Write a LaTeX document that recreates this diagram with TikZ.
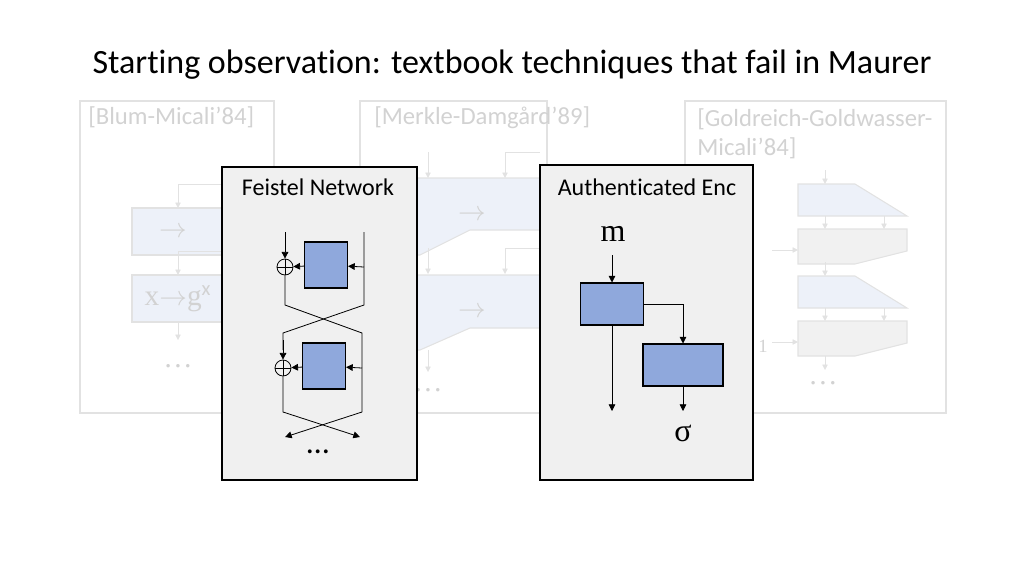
\documentclass[tikz,border=0pt]{standalone}
\usepackage{fontspec}
\setmainfont{Carlito}[Ligatures={NoCommon}]
\newfontfamily\serifm{Liberation Serif}
\usetikzlibrary{arrows.meta,positioning,calc}
\definecolor{fadeline}{HTML}{E2E2E2}
\definecolor{fadetext}{HTML}{D2D2D2}
\definecolor{fadeblue}{HTML}{EDF1F9}
\definecolor{fadegray}{HTML}{F1F1F1}
\definecolor{panel}{HTML}{F0F0F0}
\definecolor{blk}{HTML}{8FA8DC}
\tikzset{
  faded/.style={draw=fadeline,line width=0.8pt},
  fadearr/.style={draw=fadeline,-{Triangle[length=4pt,width=4pt]}},
  fadelbl/.style={text=fadetext,font=\fontsize{18.5}{22}\selectfont,anchor=north west,inner sep=0},
  fadesym/.style={text=fadetext,font=\fontsize{22}{24}\selectfont\serifm},
  panelbox/.style={draw=black,fill=panel,line width=0.8pt},
  fun/.style={draw=black,fill=blk,line width=0.8pt,inner sep=0},
  wire/.style={draw=black,line width=0.6pt},
  arr/.style={wire,-{Triangle[length=5pt,width=5pt]}},
  xor/.style={circle,draw=black,line width=0.6pt,minimum size=12pt,inner sep=0,
    path picture={\draw[black,line width=0.6pt] (path picture bounding box.north)--(path picture bounding box.south)
      (path picture bounding box.west)--(path picture bounding box.east);}}
}
\begin{document}
\begin{tikzpicture}[x=0.75pt,y=-0.75pt]
\useasboundingbox (0,0) rectangle (1024,576);
\node[font=\fontsize{25.5}{30}\selectfont] (title) at (512,65) {Starting observation: textbook techniques that fail in Maurer};

% faded background panels
\draw[faded] (80,101) rectangle (274,413);
\node[fadelbl] (bm) at (88,106) {[Blum-Micali'84]};
\draw[faded,fill=fadeblue] (132,208) rectangle (240,255);
\draw[faded,fill=fadeblue] (132,275) rectangle (240,322);
\node[fadesym] (bmA) at (173,232) {$\rightarrow$};
\node[fadesym] (bmB) at (178,299) {x$\rightarrow$g$^{\mathrm x}$};
\draw[fadearr] (240,184) -| (178,208);
\draw[fadearr] (240,251) -| (178,275);
\draw[fadearr] (178,322) -- (178,340);
\node[fadesym] (bmD) at (178,366) {\dots};

\draw[faded] (360,101) rectangle (547,413);
\node[fadelbl] (md) at (374,106) {[Merkle-Damgård'89]};
\draw[faded,fill=fadeblue] (390,178) -- (547,178) -- (547,230) -- (470,230) -- (420,255) -- (390,255) -- cycle;
\draw[faded,fill=fadeblue] (390,275) -- (547,275) -- (547,328) -- (470,328) -- (420,350) -- (390,350) -- cycle;
\node[fadesym] (mdA) at (472,215) {$\rightarrow$};
\node[fadesym] (mdB) at (472,312) {$\rightarrow$};
\foreach \y in {152,248} {
  \draw[fadearr] (428,\y) -- (428,\y+26);
  \draw[fadearr] (540,\y) -| (505,\y+26);
}
\draw[fadearr] (428,350) -- (428,372);
\node[fadesym] (mdD) at (428,390) {\dots};

\draw[faded] (685,101) rectangle (946,413);
\node[fadelbl,align=left] (ggm) at (697,108) {[Goldreich-Goldwasser-\\Micali'84]};
\foreach \y in {184,276} {
  \draw[faded,fill=fadeblue] (798,\y) -- (855,\y) -- (907,\y+32) -- (798,\y+32) -- cycle;
  \draw[faded,fill=fadegray] (798,\y+45) -- (907,\y+45) -- (907,\y+67) -- (855,\y+80) -- (798,\y+80) -- cycle;
  \draw[fadearr] (825,\y-14) -- (825,\y);
  \draw[fadearr] (825,\y+32) -- (825,\y+45);
  \draw[fadearr] (884,\y+32) -- (884,\y+45);
  \draw[fadearr] (772,\y+66) -- (798,\y+66);
}
\draw[fadearr] (825,356) -- (825,370);
\node[fadesym,font=\fontsize{14}{16}\selectfont\serifm] (one) at (763,346) {1};
\node[fadesym] (ggmD) at (823,383) {\dots};

% Feistel network
\draw[panelbox] (222,167) rectangle (417,480);
\node[font=\fontsize{18}{21}\selectfont] (fn) at (318,187) {Feistel Network};
\node[fun,minimum width=43pt*0.75,minimum height=46pt*0.75] (f1) at (326,265) {};
\node[fun,minimum width=43pt*0.75,minimum height=46pt*0.75] (f2) at (324,366) {};
\node[xor] (x1) at (285,267) {};
\node[xor] (x2) at (283,368) {};
\coordinate (inL) at (285,232);
\coordinate (inR) at (364,232);
\draw[arr] (inL) -- (x1);
\draw[arr] (364,267) -- (f1);
\draw[arr] (f1) -- (x1);
\draw[wire] (inR) -- (364,305) -- (283,333) -- (283,350);
\draw[arr] (283,340) -- (x2);
\draw[wire] (x1) -- (285,305) -- (362,333) -- (362,412);
\draw[arr] (362,368) -- (f2);
\draw[arr] (f2) -- (x2);
\draw[arr] (x2) -- (283,412) -- (360,437);
\draw[arr] (362,412) -- (285,437);
\node[font=\fontsize{24}{26}\selectfont] (fnD) at (318,452) {\dots};

% authenticated encryption
\draw[panelbox] (540,165) rectangle (753,480);
\node[font=\fontsize{18}{21}\selectfont] (ae) at (647,187) {Authenticated Enc};
\node[font=\fontsize{24}{28}\selectfont\serifm] (m) at (613,234) {m};
\node[fun,minimum width=63pt*0.75,minimum height=42pt*0.75] (b1) at (612,304) {};
\node[fun,minimum width=80pt*0.75,minimum height=42pt*0.75] (b2) at (683,365) {};
\node[font=\fontsize{24}{28}\selectfont\serifm] (sig) at (683,433) {σ};
\coordinate (o1) at (612,411);
\coordinate (o2) at (683,411);
\draw[arr] (612,255) -- (b1);
\draw[arr] (b1.east) -| (b2.north);
\draw[arr] (b1) -- (o1);
\draw[arr] (b2) -- (o2);
\end{tikzpicture}
\end{document}
